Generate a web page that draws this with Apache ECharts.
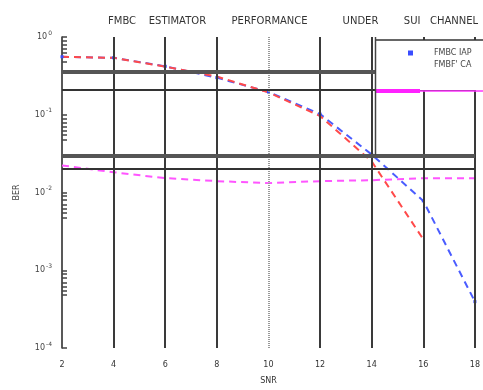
<!DOCTYPE html>
<html>
<head>
<meta charset="utf-8">
<script src="https://cdn.jsdelivr.net/npm/echarts@6/dist/echarts.min.js"></script>
<style>
html, body { margin: 0; padding: 0; background: #fff; }
#chart { width: 483px; height: 390px; }
</style>
</head>
<body>
<div id="chart"></div>
<script>
// SNR values on the x axis
var snr = [2, 4, 6, 8, 10, 12, 14, 16, 18]
var berIA = [0.557, 0.54, 0.42, 0.30, 0.196, 0.102, 0.0308, 0.0078, 0.000395]
var berCA = [0.557, 0.54, 0.416, 0.31, 0.194, 0.0964, 0.0251, 0.0025]
var berSUI = [0.0223, 0.0182, 0.0153, 0.014, 0.0132, 0.014, 0.0144, 0.0153, 0.0153]
var seriesNames = ['FMBC IAP', "FMBF' CA", 'SUI']
// y ticks: decades plus the little clusters under each one
var decades = [1, 0.1, 0.01, 0.001, 0.0001]
var tickSteps = [0.9, 0.8, 0.7, 0.62, 0.55, 0.48]
// grid lines (the odd ones from the original figure)
var solidX = [4, 6, 8, 12, 14, 16, 18]
var dottedX = [10]
var heavyY = [0.363, 0.0328, 0.00323, 0.000284]
var lightY = [0.215, 0.0195, 0.00192, 0.000168]

function pairs(ys) {
  return ys.map(function (v, i) { return [snr[i], v] })
}

var yTicks = decades.slice()
decades.slice(0, 4).forEach(function (d) {
  tickSteps.forEach(function (s) { yTicks.push(d * s) })
})

var chart = echarts.init(document.getElementById('chart'))

var gridLines = []
solidX.forEach(function (x) {
  gridLines.push({ xAxis: x, lineStyle: { color: '#3a3a3a', width: 2, type: 'solid' } })
})
dottedX.forEach(function (x) {
  gridLines.push({ xAxis: x, lineStyle: { color: '#999', width: 2, type: [1, 1] } })
})
heavyY.forEach(function (y) {
  gridLines.push({ yAxis: y, lineStyle: { color: '#555', width: 4, type: 'solid' } })
})
lightY.forEach(function (y) {
  gridLines.push({ yAxis: y, lineStyle: { color: '#333', width: 2, type: 'solid' } })
})

chart.setOption({
  animation: false,
  backgroundColor: '#fff',
  title: {
    text: 'FMBC    ESTIMATOR        PERFORMANCE           UNDER        SUI   CHANNEL',
    left: 103,
    top: 11,
    textStyle: { fontFamily: 'DejaVu Sans', fontSize: 10, fontWeight: 'normal', color: '#333' }
  },
  grid: { left: 62, right: 8, top: 37, bottom: 35 },
  legend: {
    left: 403,
    top: 44,
    z: 20,
    orient: 'vertical',
    itemGap: 4,
    itemWidth: 5,
    itemHeight: 5,
    textStyle: { fontFamily: 'DejaVu Sans', fontSize: 8, color: '#444', padding: [0, 0, 0, 16] },
    data: [
      { name: seriesNames[0], icon: 'rect' },
      { name: seriesNames[1], icon: 'rect', itemStyle: { opacity: 0 } }
    ]
  },
  xAxis: {
    type: 'value',
    min: 2,
    max: 18,
    interval: 2,
    name: 'SNR',
    nameLocation: 'middle',
    nameGap: 29,
    nameTextStyle: { fontFamily: 'DejaVu Sans', fontSize: 8, color: '#333' },
    axisLine: { show: false },
    axisTick: { show: false },
    splitLine: { show: false },
    axisLabel: { fontFamily: 'DejaVu Sans', fontSize: 8, color: '#333', margin: 13 }
  },
  yAxis: {
    type: 'log',
    logBase: 10,
    min: 0.0001,
    max: 1,
    name: 'BER',
    nameLocation: 'middle',
    nameGap: 41,
    nameRotate: 90,
    nameTextStyle: { fontFamily: 'DejaVu Sans', fontSize: 8, color: '#444' },
    axisLine: { show: true, lineStyle: { color: '#222', width: 1.5 } },
    axisTick: { show: true, inside: true, length: 5, customValues: yTicks, lineStyle: { color: '#444', width: 1.5 } },
    splitLine: { show: false },
    axisLabel: {
      margin: 10,
      customValues: decades,
      formatter: function (v) {
        var e = Math.round(Math.log10(v))
        return '{b|10}{s|' + e + '}'
      },
      rich: {
        b: { fontFamily: 'DejaVu Sans', fontSize: 8, color: '#444' },
        s: { fontFamily: 'DejaVu Sans', fontSize: 6, color: '#444', padding: [0, 0, 8, 1] }
      }
    }
  },
  series: [
    {
      name: 'grid',
      type: 'line',
      data: [],
      silent: true,
      markLine: { silent: true, symbol: 'none', label: { show: false }, data: gridLines }
    },
    {
      name: seriesNames[0],
      type: 'line',
      data: pairs(berIA),
      symbol: 'rect',
      symbolSize: 3,
      itemStyle: { color: '#3a4dff' },
      lineStyle: { color: '#4a5cff', width: 2, type: [7, 5] }
    },
    {
      name: seriesNames[1],
      type: 'line',
      data: pairs(berCA),
      symbol: 'none',
      itemStyle: { color: '#ff4a4a' },
      lineStyle: { color: '#ff4a4a', width: 2, type: [7, 5] }
    },
    {
      name: seriesNames[2],
      type: 'line',
      data: pairs(berSUI),
      symbol: 'none',
      itemStyle: { color: '#ff44ff' },
      lineStyle: { color: '#ff55ff', width: 2, type: [7, 5] }
    }
  ],
  graphic: [
    { type: 'rect', z: 10, shape: { x: 376, y: 40, width: 110, height: 50 }, style: { fill: '#fff' } },
    { type: 'line', z: 11, shape: { x1: 376, y1: 40, x2: 483, y2: 40 }, style: { stroke: '#333', lineWidth: 1.5 } },
    { type: 'line', z: 11, shape: { x1: 376, y1: 91, x2: 483, y2: 91 }, style: { stroke: '#ff33ff', lineWidth: 1.5 } },
    { type: 'rect', z: 11, shape: { x: 376, y: 89, width: 44, height: 4 }, style: { fill: '#ff22ff' } },
    { type: 'line', z: 11, shape: { x1: 375.5, y1: 37, x2: 375.5, y2: 155 }, style: { stroke: '#444', lineWidth: 1.5 } }
  ]
})
</script>
</body>
</html>
